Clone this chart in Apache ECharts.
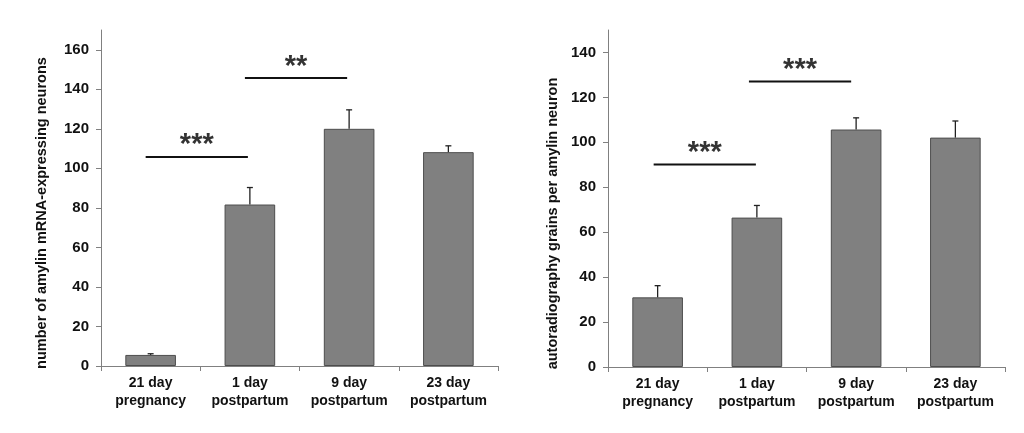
<!DOCTYPE html>
<html><head><meta charset="utf-8">
<script src="https://cdn.jsdelivr.net/npm/echarts@6/dist/echarts.min.js"></script>
<style>html,body{margin:0;padding:0;background:#fff}#c{width:1024px;height:433px}</style>
</head><body><div id="c"></div>
<script>
// ---- data ----
const categories = ['21 day\npregnancy', '1 day\npostpartum', '9 day\npostpartum', '23 day\npostpartum'];
const neuronCounts = [5.6, 81.7, 120, 108.2];
const neuronErrors = [0.6, 8.6, 9.6, 3.2];
const grainCounts = [31.0, 66.5, 105.7, 102.1];
const grainErrors = [5.2, 5.4, 5.2, 7.4];
const leftTicks = [0, 20, 40, 60, 80, 100, 120, 140, 160];
const rightTicks = [0, 20, 40, 60, 80, 100, 120, 140];
const leftTitle = 'number of amylin mRNA-expressing neurons';
const rightTitle = 'autoradiography grains per amylin neuron';
// significance brackets (category-index span, y level, label)
const leftSigFrom = [-0.05, 0.95];
const leftSigTo = [0.98, 1.98];
const leftSigY = [105.8, 145.7];
const leftSigLabel = ['***', '**'];
const rightSigFrom = [-0.04, 0.92];
const rightSigTo = [0.99, 1.95];
const rightSigY = [90.1, 127.1];
const rightSigLabel = ['***', '***'];

const AX = '#808080';
const TXT = '#111';
const FONT = 'Liberation Sans, Arial, sans-serif';

function catAxis(grid) {
  return {
    type: 'category', gridIndex: grid, data: categories,
    axisLine: { lineStyle: { color: AX, width: 1 } },
    axisTick: { show: true, length: 5, lineStyle: { color: AX } },
    axisLabel: { color: TXT, fontWeight: 'bold', fontSize: 14, fontFamily: FONT, lineHeight: 18, margin: 8, interval: 0 },
    splitLine: { show: false }
  };
}
function hidAxis(grid) {
  return { type: 'value', gridIndex: grid, min: -0.5, max: 3.5, show: false };
}
function valAxis(grid, max, ticks, title, gap, pad) {
  return {
    type: 'value', gridIndex: grid, min: 0, max: max, interval: 20,
    name: title, nameLocation: 'middle', nameGap: gap,
    nameTextStyle: { color: TXT, fontWeight: 'bold', fontSize: 14.5, fontFamily: FONT, padding: pad },
    axisLine: { show: true, onZero: false, lineStyle: { color: AX, width: 1 } },
    axisTick: { show: true, length: 5, lineStyle: { color: AX }, customValues: ticks },
    axisLabel: { color: TXT, fontWeight: 'bold', fontSize: 15, fontFamily: FONT, margin: 12, customValues: ticks },
    splitLine: { show: false }
  };
}
function barSeries(axisIdx, vals) {
  return {
    type: 'bar', xAxisIndex: axisIdx, yAxisIndex: axisIdx, data: vals, barWidth: '51%',
    itemStyle: { color: '#808080', borderColor: '#4d4d4d', borderWidth: 1 }, silent: true
  };
}
function errSeries(axisIdx, vals, errs) {
  return {
    type: 'custom', xAxisIndex: axisIdx, yAxisIndex: axisIdx, silent: true, z: 5,
    data: vals.map((v, i) => [i, v, errs[i]]),
    renderItem: function (params, api) {
      const i = api.value(0), v = api.value(1), e = api.value(2);
      const b = api.coord([i, v]);
      const t = api.coord([i, v + e]);
      const st = { stroke: '#222', lineWidth: 1.3 };
      return { type: 'group', children: [
        { type: 'line', shape: { x1: b[0], y1: b[1], x2: t[0], y2: t[1] }, style: st },
        { type: 'line', shape: { x1: t[0] - 3, y1: t[1], x2: t[0] + 3, y2: t[1] }, style: st }
      ] };
    }
  };
}
function sigSeries(xIdx, yIdx, from, to, ys, labels) {
  const out = [];
  for (let k = 0; k < from.length; k++) {
    out.push({
      type: 'line', xAxisIndex: xIdx, yAxisIndex: yIdx, silent: true, symbol: 'none',
      lineStyle: { color: '#111', width: 2 },
      data: [[from[k], ys[k]], [to[k], ys[k]]]
    });
    out.push({
      type: 'scatter', xAxisIndex: xIdx, yAxisIndex: yIdx, silent: true, symbolSize: 0,
      data: [[(from[k] + to[k]) / 2, ys[k]]],
      label: { show: true, position: 'top', distance: -3, formatter: labels[k],
        color: '#000', fontWeight: 'bold', fontSize: 29, fontFamily: FONT }
    });
  }
  return out;
}

const chart = echarts.init(document.getElementById('c'), null, { renderer: 'canvas' });
chart.setOption({
  backgroundColor: '#fff',
  animation: false,
  grid: [
    { left: 101, top: 30, width: 397, height: 336 },
    { left: 608, top: 30, width: 397, height: 337 }
  ],
  xAxis: [catAxis(0), catAxis(1), hidAxis(0), hidAxis(1)],
  yAxis: [
    valAxis(0, 170, leftTicks, leftTitle, 52, [0, 30, 0, 0]),
    valAxis(1, 150, rightTicks, rightTitle, 48, [0, 50, 0, 0])
  ],
  series: [
    barSeries(0, neuronCounts), errSeries(0, neuronCounts, neuronErrors),
    barSeries(1, grainCounts), errSeries(1, grainCounts, grainErrors),
    ...sigSeries(2, 0, leftSigFrom, leftSigTo, leftSigY, leftSigLabel),
    ...sigSeries(3, 1, rightSigFrom, rightSigTo, rightSigY, rightSigLabel)
  ]
});
</script></body></html>
